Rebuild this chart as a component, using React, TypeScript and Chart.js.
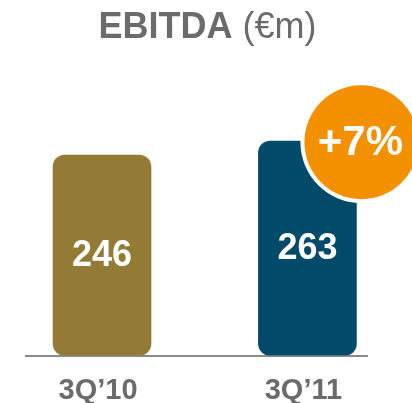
import React, { useEffect, useRef } from "react";
import { Chart, registerables } from "chart.js";

Chart.register(...registerables);

// ---- data ----
const categories = ["3Q’10", "3Q’11"];
const ebitda = [246, 263];
const barColors = ["#937b36", "#024a6a"];
const titleBold = "EBITDA";
const titleRest = " (€m)";
const yMax = 300;
const growthLabel = `+${Math.round((ebitda[1] / ebitda[0] - 1) * 100)}%`;

const FONT = '"Liberation Sans", Arial, Helvetica, sans-serif';
const GRAY = "#6b6b6b";
const ORANGE = "#f29000";

const overlayPlugin = {
  id: "overlay",
  afterDatasetsDraw(chart: any) {
    const ctx = chart.ctx as CanvasRenderingContext2D;
    const meta = chart.getDatasetMeta(0);
    ctx.save();

    // values inside bars
    ctx.fillStyle = "#ffffff";
    ctx.font = `bold 36px ${FONT}`;
    ctx.textAlign = "center";
    ctx.textBaseline = "middle";
    meta.data.forEach((bar: any, i: number) => {
      ctx.fillText(String(ebitda[i]), bar.x, (bar.y + bar.base) / 2 + 1);
    });

    // growth badge on top-right corner of last bar
    const last: any = meta.data[meta.data.length - 1];
    const cx = last.x + last.width / 2 + 5;
    const cy = last.y + 1;
    ctx.beginPath();
    ctx.arc(cx, cy, 61, 0, Math.PI * 2);
    ctx.fillStyle = "#ffffff";
    ctx.fill();
    ctx.beginPath();
    ctx.arc(cx, cy, 57, 0, Math.PI * 2);
    ctx.fillStyle = ORANGE;
    ctx.fill();
    ctx.fillStyle = "#ffffff";
    ctx.font = `bold 42px ${FONT}`;
    ctx.fillText(growthLabel, cx - 1, cy + 1);

    // title
    ctx.textBaseline = "alphabetic";
    ctx.textAlign = "left";
    ctx.font = `bold 36px ${FONT}`;
    const wb = ctx.measureText(titleBold).width;
    ctx.font = `36px ${FONT}`;
    const wr = ctx.measureText(titleRest).width;
    const x0 = chart.width / 2 + 1.5 - (wb + wr) / 2;
    ctx.fillStyle = GRAY;
    ctx.font = `bold 36px ${FONT}`;
    ctx.fillText(titleBold, x0, 38);
    ctx.font = `36px ${FONT}`;
    ctx.fillText(titleRest, x0 + wb, 38);

    ctx.restore();
  },
};

export default function App() {
  const ref = useRef<HTMLCanvasElement | null>(null);

  useEffect(() => {
    if (!ref.current) return;
    const chart = new Chart(ref.current, {
      type: "bar",
      data: {
        datasets: [
          {
            data: ebitda.map((v, i) => ({ x: i, y: v })),
            backgroundColor: barColors,
            borderRadius: 12,
            borderSkipped: false,
            barThickness: 98,
          },
        ],
      },
      options: {
        responsive: false,
        animation: false,
        layout: { padding: { left: 26, right: 45, top: 111, bottom: -23.3 } },
        plugins: {
          legend: { display: false },
          tooltip: { enabled: false },
          title: { display: false },
        },
        scales: {
          x: {
            type: "linear",
            offset: false,
            min: -0.37,
            max: 1.29,
            grid: { display: false, drawTicks: false },
            border: { display: true, color: "#8a8a8a", width: 2 },
            ticks: {
              stepSize: 1,
              includeBounds: false,
              maxRotation: 0,
              autoSkip: false,
              padding: 18,
              labelOffset: -4,
              color: GRAY,
              font: { family: FONT, size: 29, weight: "bold" },
              callback: (v: any) => (Number.isInteger(v) && categories[v] !== undefined ? categories[v] : ""),
            },
          },
          y: {
            display: false,
            min: 0,
            max: yMax,
          },
        },
      },
      plugins: [overlayPlugin],
    } as any);
    return () => chart.destroy();
  }, []);

  return (
    <div style={{ position: "absolute", left: 0, top: 0, width: 412, height: 403, background: "#fff" }}>
      <canvas ref={ref} width={412} height={403} style={{ display: "block" }} />
    </div>
  );
}
